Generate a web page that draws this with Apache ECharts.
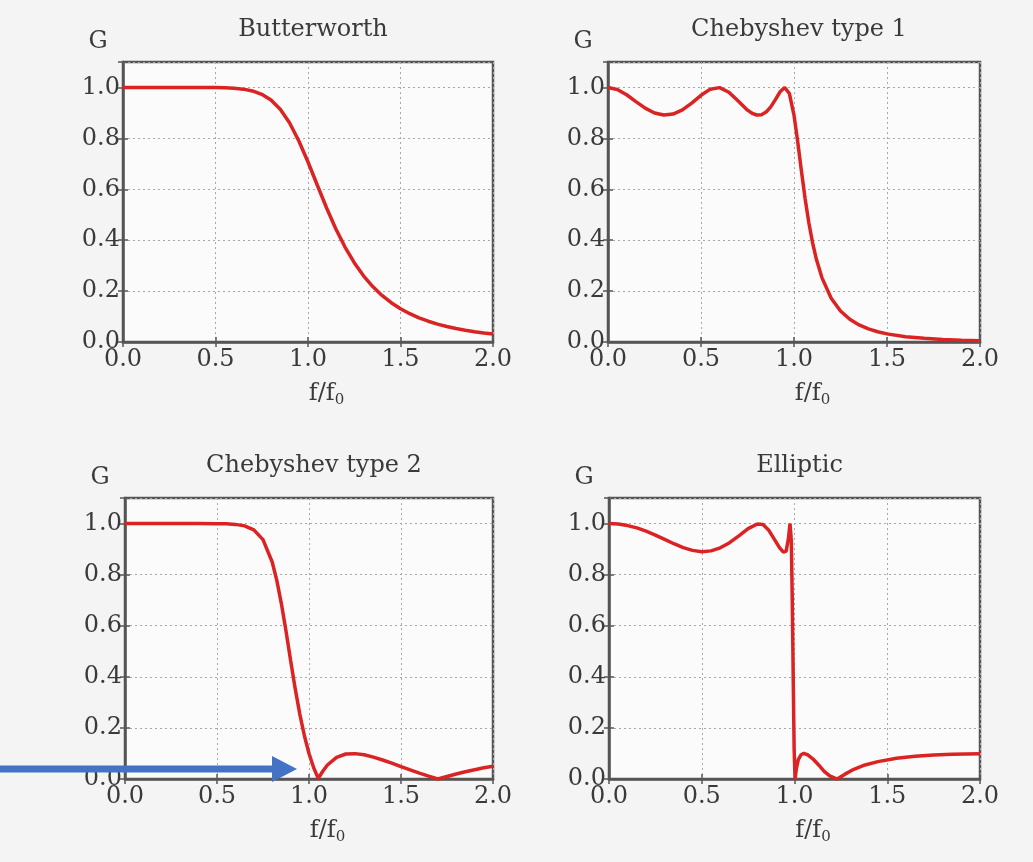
<!DOCTYPE html>
<html><head><meta charset="utf-8">
<script src="https://cdn.jsdelivr.net/npm/echarts@6/dist/echarts.min.js"></script>
<style>html,body{margin:0;padding:0;background:#f4f4f4}#c{width:1033px;height:862px}</style>
</head><body><div id="c"></div>
<script>
// ---- data ----
const titles = ['Butterworth', 'Chebyshev type 1', 'Chebyshev type 2', 'Elliptic'];
const yLabel = 'G';
const xTickLabels = ['0.0', '0.5', '1.0', '1.5', '2.0'];
const yTickLabels = ['0.0', '0.2', '0.4', '0.6', '0.8', '1.0'];

const butterX = [0,0.1,0.2,0.3,0.4,0.5,0.55,0.6,0.65,0.7,0.75,0.8,0.85,0.9,0.95,1.0,1.05,1.1,1.15,1.2,1.25,1.3,1.35,1.4,1.45,1.5,1.55,1.6,1.65,1.7,1.75,1.8,1.85,1.9,1.95,2.0];
const butterG = [1.0,1.0,1.0,1.0,1.0,0.9995,0.9987,0.997,0.9934,0.9862,0.973,0.9503,0.9141,0.8611,0.7909,0.7071,0.6168,0.5275,0.4452,0.3729,0.3114,0.2601,0.2177,0.1828,0.1542,0.1306,0.1111,0.0949,0.0816,0.0703,0.0608,0.0528,0.0461,0.0403,0.0355,0.0312];

const cheb1X = [0,0.05,0.1,0.15,0.2,0.25,0.3,0.35,0.4,0.45,0.5,0.55,0.6,0.65,0.7,0.75,0.775,0.8,0.825,0.85,0.875,0.9,0.925,0.95,0.975,1.0,1.02,1.04,1.06,1.08,1.1,1.12,1.15,1.2,1.25,1.3,1.35,1.4,1.45,1.5,1.6,1.7,1.8,1.9,2.0];
const cheb1G = [1.0,0.9922,0.9714,0.9445,0.9187,0.8998,0.8915,0.8955,0.912,0.9386,0.9691,0.9933,0.9993,0.9813,0.9464,0.9108,0.8986,0.8918,0.8929,0.9033,0.9235,0.952,0.9828,1.0,0.9763,0.8913,0.7869,0.6714,0.5622,0.4676,0.3894,0.326,0.253,0.172,0.1218,0.0891,0.067,0.0514,0.0402,0.0319,0.0209,0.0143,0.0101,0.0073,0.0054];

const cheb2X = [0,0.1,0.2,0.3,0.4,0.5,0.55,0.6,0.65,0.7,0.75,0.8,0.825,0.85,0.875,0.9,0.925,0.95,0.975,1.0,1.025,1.05,1.075,1.1,1.15,1.2,1.25,1.3,1.35,1.4,1.45,1.5,1.55,1.6,1.65,1.7,1.75,1.8,1.85,1.9,1.95,2.0];
const cheb2G = [1.0,1.0,1.0,1.0,1.0,0.9996,0.9989,0.9967,0.9908,0.9754,0.937,0.8494,0.7775,0.6858,0.5792,0.4643,0.3536,0.2541,0.1693,0.1,0.0449,0.0022,0.0304,0.0549,0.0848,0.0979,0.0993,0.0949,0.0855,0.0744,0.0618,0.0484,0.0354,0.0233,0.0114,0.0001,0.01,0.0195,0.0285,0.0364,0.0437,0.0502];

const ellipX = [0,0.05,0.1,0.15,0.2,0.25,0.3,0.35,0.4,0.45,0.5,0.55,0.6,0.65,0.7,0.75,0.8,0.83,0.86,0.89,0.92,0.94,0.955,0.967,0.976,0.983,0.988,0.993,0.998,1.003,1.01,1.02,1.035,1.05,1.07,1.1,1.13,1.16,1.19,1.23,1.27,1.32,1.38,1.45,1.55,1.65,1.75,1.85,2.0];
const ellipG = [1.0,0.998,0.992,0.983,0.97,0.955,0.938,0.921,0.906,0.895,0.89,0.893,0.905,0.925,0.952,0.98,0.998,0.996,0.975,0.94,0.905,0.888,0.892,0.94,1.0,0.93,0.7,0.4,0.12,0.0,0.04,0.075,0.095,0.1,0.095,0.078,0.055,0.03,0.012,0.0,0.018,0.038,0.055,0.068,0.081,0.089,0.094,0.097,0.099];

// ---- chart ----
const seriesX = [butterX, cheb1X, cheb2X, ellipX];
const seriesG = [butterG, cheb1G, cheb2G, ellipG];
const FONT = 'DejaVu Serif';
const FS = 24;
const TXT = '#3a3a3a';
const grids = [
  {left: 123, top: 62, width: 370, height: 280},
  {left: 608, top: 62, width: 372, height: 280},
  {left: 125, top: 498, width: 368, height: 281},
  {left: 609, top: 498, width: 371, height: 281}
];
const gridLine = {show: true, lineStyle: {color: '#a8a8a8', type: [2, 3], width: 1}};
const tick = {show: true, inside: true, length: 5, lineStyle: {color: '#555', width: 1.5}};

const xAxes = [], yAxes = [], series = [], title = [];
grids.forEach((g, i) => {
  xAxes.push({
    type: 'value', gridIndex: i, min: 0, max: 2, interval: 0.5, position: 'bottom',
    axisLine: {show: true, onZero: false, lineStyle: {color: '#555', width: 2.5}},
    axisTick: tick, splitLine: gridLine,
    axisLabel: {fontFamily: FONT, fontSize: FS, color: TXT, margin: 6,
      formatter: v => xTickLabels[Math.round(v / 0.5)] || ''},
    name: '{m|f/f}{s|0}', nameLocation: 'middle', nameGap: 40,
    nameTextStyle: {padding: [0, 0, 0, 37], rich: {
      m: {fontFamily: FONT, fontSize: FS, color: TXT, lineHeight: 24},
      s: {fontFamily: FONT, fontSize: 15, color: TXT, padding: [12, 0, 0, 0], lineHeight: 24}}}
  });
  xAxes.push({
    type: 'value', gridIndex: i, min: 0, max: 2, interval: 0.5, position: 'top',
    axisLine: {show: false}, axisTick: tick, splitLine: {show: false}, axisLabel: {show: false}
  });
  yAxes.push({
    type: 'value', gridIndex: i, min: 0, max: 1.1, interval: 0.2, position: 'left',
    axisLine: {show: true, onZero: false, lineStyle: {color: '#555', width: 2.5}},
    axisTick: tick, splitLine: gridLine,
    axisLabel: {fontFamily: FONT, fontSize: FS, color: TXT, margin: 3, showMaxLabel: false,
      formatter: v => yTickLabels[Math.round(v / 0.2)] || ''},
    name: yLabel, nameLocation: 'end', nameGap: 8,
    nameTextStyle: {fontFamily: FONT, fontSize: FS, color: TXT, lineHeight: 24, padding: [0, 50, 0, 0]}
  });
  yAxes.push({
    type: 'value', gridIndex: i, min: 0, max: 1.1, interval: 0.2, position: 'right',
    axisLine: {show: false}, axisTick: tick, splitLine: {show: false}, axisLabel: {show: false}
  });
  series.push({
    type: 'line', xAxisIndex: 2 * i, yAxisIndex: 2 * i, showSymbol: false, smooth: false,
    clip: false,
    lineStyle: {color: '#dc2323', width: 3.5},
    data: seriesX[i].map((x, k) => [x, seriesG[i][k]])
  });
  title.push({
    text: titles[i], left: g.left + g.width / 2, top: i < 2 ? 13 : 449, textAlign: 'center',
    textStyle: {fontFamily: FONT, fontSize: FS, fontWeight: 'normal', color: TXT}
  });
});

const chart = echarts.init(document.getElementById('c'), null, {renderer: 'canvas'});
chart.setOption({
  backgroundColor: '#f4f4f4',
  animation: false,
  title: title,
  grid: grids.map(g => Object.assign({show: true, backgroundColor: '#fbfbfb', borderColor: '#555', borderWidth: 2.5, containLabel: false}, g)),
  xAxis: xAxes,
  yAxis: yAxes,
  series: series,
  graphic: [
    {type: 'line', shape: {x1: 0, y1: 769, x2: 276, y2: 769}, style: {stroke: '#4472c4', lineWidth: 7}, z: 100},
    {type: 'polygon', shape: {points: [[272, 756], [297, 769], [272, 782]]}, style: {fill: '#4472c4'}, z: 100}
  ]
});
</script></body></html>
